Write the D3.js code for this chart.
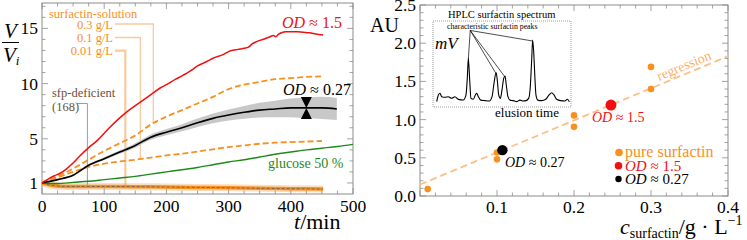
<!DOCTYPE html>
<html><head><meta charset="utf-8">
<script src="https://cdn.jsdelivr.net/npm/d3@7"></script>
<style>body{margin:0;background:#fff}svg{display:block}</style>
</head><body>
<svg id="c" width="747" height="240" style="font-family:'Liberation Serif',serif"></svg>
<script>
// ---------- data: left panel (V/Vi vs t) ----------
const tRed = [0,10,20,30,40,50,60,75,90,100,110,125,140,150,165,175,190,200,215,225,240,250,265,275,290,300,315,325,332,338,345,355,365,372,376,380,385,392,400,410,420,430,440,452];
const vRed = [1.0,1.35,1.65,1.9,2.3,2.8,3.4,4.2,4.9,5.5,6.1,6.9,7.6,8.0,8.6,9.0,9.6,9.9,10.4,10.7,11.2,11.6,12.0,12.3,12.6,12.9,13.1,13.2,13.3,13.6,13.8,14.0,14.2,14.35,14.25,14.45,14.6,14.7,14.7,14.7,14.65,14.6,14.5,14.4];
const tStd = [0,25,50,75,100,125,150,175,200,225,250,275,300,325,350,375,400,425,450];
const v03 = [1.0,1.6,2.3,3.1,3.9,4.6,5.3,6.3,7.0,7.6,8.2,8.8,9.5,9.9,10.15,10.4,10.5,10.6,10.65];
const v01 = [1.0,1.5,2.0,2.45,2.75,2.95,3.1,3.3,3.5,3.65,3.85,4.05,4.25,4.4,4.55,4.65,4.7,4.75,4.8];
const tBlack = [0,25,50,75,100,125,150,175,200,225,250,275,300,325,350,375,400,425,450,474];
const vBlack = [1.0,1.3,1.7,2.6,3.2,3.8,4.4,5.15,5.6,6.0,6.45,6.85,7.15,7.4,7.6,7.7,7.8,7.8,7.8,7.7];
const bandHalf = [0.02,0.05,0.08,0.1,0.13,0.16,0.2,0.24,0.28,0.32,0.38,0.44,0.5,0.58,0.66,0.75,0.85,0.95,1.0,1.0];
const tGreen = [0,25,50,75,100,125,150,175,200,225,250,275,300,325,350,375,400,425,450,475,500];
const vGreen = [1.0,0.95,1.05,1.15,1.3,1.45,1.6,1.8,2.0,2.2,2.4,2.65,2.9,3.1,3.35,3.6,3.8,4.0,4.15,4.3,4.5];
const tLow = [0,10,20,30,50,100,150,200,250,300,350,400,452];
const vLow = [1.0,0.85,0.75,0.7,0.68,0.68,0.66,0.63,0.6,0.56,0.52,0.48,0.45];
const xTicksL = [0,100,200,300,400,500];
const yTicksL = [1,5,10,15];
const calloutT = {c03:179, c01:158, c001:134, sfp:73};
const odMarkT = 425;

// ---------- data: right panel (AU vs c) ----------
const pureC = [0.01,0.1,0.1,0.2,0.2,0.3,0.3];
const pureAU = [0.09,0.57,0.48,1.055,0.905,1.69,1.40];
const od15 = [0.248,1.19];
const od027 = [0.107,0.60];
const regIntercept = 0.15, regSlope = 4.2;
const xTicksR = [0.1,0.2,0.3,0.4];
const yTicksR = [0.0,0.5,1.0,1.5,2.0,2.5];
// HPLC spectrum (arbitrary units 0..100)
const specU = [2.7,3.9,5.1,6.3,8.7,11.1,13.5,15.9,18.4,22,23.9,24.9,25.6,26.6,27.5,29.2,30.7,31.6,32.9,34.6,37.7,40.8,42.8,44.2,45.7,46.6,47.6,48.8,50,51.2,52.2,53.1,54.3,55.8,58.2,60.6,63,65,67.4,69.3,70.5,71.5,72.2,72.9,73.7,74.6,75.9,78.8,81.7,84.1,86,87.7,89.6,92.5,95.6,97.3,98.8];
const specW = [6.2,14,16,12,11.3,12,10.1,12,8.9,8.1,14,35,56.6,31,10,9,14,16,12,8,7.4,7,12,27.5,40,31,14,10,20,33,36,25.6,12,8,7.4,6.2,8,7,7.4,10,23.6,54.7,77.9,66,39,14,8,7.4,9,14,16.6,14,9,7.4,7,9,6.2];
const peakU = [25.6,45.7,52.2,72.2];

const svg = d3.select("#c");
const ORANGE = "#f7901e", RED = "#f01010", GREEN = "#1b8a1b", BROWN = "#6e4f3a", PALE = "#f9c9a0", FRAME = "#8c8c8c";

function frame(g, x, y, xMinor, yMinor, xMaj, yMaj) {
  const [x0,x1] = x.range(), [y0,y1] = y.range();
  g.append("rect").attr("x",x0).attr("y",y1).attr("width",x1-x0).attr("height",y0-y1)
    .attr("fill","none").attr("stroke",FRAME).attr("stroke-width",1);
  const tk = g.append("g").attr("stroke",FRAME).attr("stroke-width",0.8);
  xMinor.forEach(v=>{const L = xMaj.some(m=>Math.abs(m-v)<1e-9)?6:3.5;
    tk.append("line").attr("x1",x(v)).attr("x2",x(v)).attr("y1",y0).attr("y2",y0-L);
    tk.append("line").attr("x1",x(v)).attr("x2",x(v)).attr("y1",y1).attr("y2",y1+L);});
  yMinor.forEach(v=>{const L = yMaj.some(m=>Math.abs(m-v)<1e-9)?6:3.5;
    tk.append("line").attr("y1",y(v)).attr("y2",y(v)).attr("x1",x0).attr("x2",x0+L);
    tk.append("line").attr("y1",y(v)).attr("y2",y(v)).attr("x1",x1).attr("x2",x1-L);});
}

// ================= LEFT PANEL =================
const xL = d3.scaleLinear([0,500],[42,353]);
const yL = d3.scaleLinear([0,17.3],[194,3]);
const gL = svg.append("g");
frame(gL, xL, yL, d3.range(0,501,25), d3.range(1,18,1), xTicksL, yTicksL);
const ln = d3.line().x(d=>xL(d[0])).y(d=>yL(d[1])).curve(d3.curveMonotoneX);
const zip = (a,b)=>a.map((v,i)=>[v,b[i]]);
const interp = (ts,vs,t)=>d3.scaleLinear(ts,vs)(t);

// callout lines
const cl = gL.append("g").attr("fill","none");
function callout(yText, t, vEnd, col, w){
  cl.append("path").attr("d",`M${115},${yText}H${xL(t)}V${yL(vEnd)}`).attr("stroke",col).attr("stroke-width",w);
}
callout(24, calloutT.c03, interp(tStd,v03,calloutT.c03), PALE, 1.3);
callout(37.5, calloutT.c01, interp(tStd,v01,calloutT.c01), PALE, 1.3);
callout(50.7, calloutT.c001, interp(tLow,vLow,calloutT.c001), PALE, 2.2);
cl.append("path").attr("d",`M${77},${103.5}H${xL(calloutT.sfp)}V${yL(interp(tLow,vLow,calloutT.sfp))}`)
  .attr("stroke","#a8968a").attr("stroke-width",1);

// bottom sfp-deficient / 0.01 curves
gL.append("path").attr("d",ln(zip(tLow,vLow))).attr("fill","none").attr("stroke",ORANGE).attr("stroke-opacity",0.3).attr("stroke-width",7);
gL.append("path").attr("d",ln(zip(tLow,vLow))).attr("fill","none").attr("stroke",ORANGE).attr("stroke-width",3.5);
gL.append("path").attr("d",ln(zip(tLow,vLow))).attr("fill","none").attr("stroke","#7a6655").attr("stroke-width",1).attr("stroke-dasharray","3,2");

// green
gL.append("path").attr("d",ln(zip(tGreen,vGreen))).attr("fill","none").attr("stroke",GREEN).attr("stroke-width",1.4);
// black band
const area = d3.area().x(d=>xL(d[0])).y0(d=>yL(d[1]-d[2])).y1(d=>yL(d[1]+d[2])).curve(d3.curveMonotoneX);
gL.append("path").attr("d",area(tBlack.map((t,i)=>[t,vBlack[i],bandHalf[i]]))).attr("fill","#c8c8c8");
// dashed orange
[v03,v01].forEach(v=>gL.append("path").attr("d",ln(zip(tStd,v))).attr("fill","none").attr("stroke",ORANGE).attr("stroke-width",1.8).attr("stroke-dasharray","6,3"));
// black
gL.append("path").attr("d",ln(zip(tBlack,vBlack))).attr("fill","none").attr("stroke","#000").attr("stroke-width",1.6);
// red
gL.append("path").attr("d",ln(zip(tRed,vRed))).attr("fill","none").attr("stroke",RED).attr("stroke-width",1.5);
// hourglass marker
{const mx = xL(odMarkT), my = yL(interp(tBlack,vBlack,odMarkT));
 gL.append("path").attr("d",`M${mx-5.5},${my-11}L${mx+5.5},${my-11}L${mx},${my}Z M${mx-5.5},${my+11}L${mx+5.5},${my+11}L${mx},${my}Z`).attr("fill","#000");}

// tick labels
gL.append("g").selectAll("text").data(xTicksL).join("text").attr("x",d=>xL(d)).attr("y",212).attr("text-anchor","middle").attr("font-size",17.5).text(d=>d);
gL.append("g").selectAll("text").data(yTicksL).join("text").attr("x",38).attr("y",d=>yL(d)+6).attr("text-anchor","end").attr("font-size",17.5).text(d=>d);
// axis labels
gL.append("text").attr("x",10.5).attr("y",38).attr("text-anchor","middle").attr("font-size",21).attr("font-style","italic").text("V");
gL.append("line").attr("x1",2).attr("x2",19).attr("y1",42.5).attr("y2",42.5).attr("stroke","#000").attr("stroke-width",1);
{const t=gL.append("text").attr("x",3).attr("y",62).attr("font-size",21).attr("font-style","italic");
 t.append("tspan").text("V"); t.append("tspan").attr("font-size",13).attr("dy",3).text("i");}
{const t=gL.append("text").attr("x",294).attr("y",229).attr("font-size",22);
 t.append("tspan").attr("font-style","italic").text("t"); t.append("tspan").text("/min");}
// annotations
function odText(g,x,y,size,col,val){const t=g.append("text").attr("x",x).attr("y",y).attr("font-size",size).attr("fill",col);
  t.append("tspan").attr("font-style","italic").text("OD"); t.append("tspan").text(" ≈ "+val); return t;}
odText(gL,282,28,16,RED,"1.5");
odText(gL,283,95,16,"#000","0.27");
gL.append("text").attr("x",268).attr("y",168).attr("font-size",14).attr("fill",GREEN).text("glucose 50 %");
gL.append("text").attr("x",49).attr("y",17.5).attr("font-size",12.5).attr("fill",ORANGE).text("surfactin-solution");
[["0.3 g/L",28.5],["0.1 g/L",42],["0.01 g/L",55]].forEach(d=>gL.append("text").attr("x",113).attr("y",d[1]).attr("text-anchor","end").attr("font-size",12.5).attr("fill",ORANGE).text(d[0]));
gL.append("text").attr("x",52).attr("y",97).attr("font-size",12.5).attr("fill",BROWN).text("sfp-deficient");
gL.append("text").attr("x",52).attr("y",111).attr("font-size",12.5).attr("fill",BROWN).text("(168)");

// ================= RIGHT PANEL =================
const xR = d3.scaleLinear([0,0.4],[420,728]);
const yR = d3.scaleLinear([0,2.5],[196,5]);
const gR = svg.append("g");
frame(gR, xR, yR, d3.range(0,0.4001,0.02).map(v=>+v.toFixed(2)), d3.range(0,2.5001,0.1).map(v=>+v.toFixed(1)), [0,...xTicksR], yTicksR);

// inset
const xI = d3.scaleLinear([0,100],[433,571]);
const yI = d3.scaleLinear([0,100],[107,21]);
gR.append("rect").attr("x",433).attr("y",21).attr("width",138).attr("height",86).attr("fill","#fff").attr("stroke","#777").attr("stroke-width",0.7).attr("stroke-dasharray","1,1");
gR.append("path").attr("d",d3.line().x(d=>xI(d[0])).y(d=>yI(d[1])).curve(d3.curveMonotoneX)(zip(specU,specW))).attr("fill","none").attr("stroke","#000").attr("stroke-width",1.1);
{const ox = xI(27), oy = yI(89);
 peakU.forEach(u=>{const w = interp(specU,specW,u); gR.append("line").attr("x1",ox).attr("y1",oy).attr("x2",xI(u)).attr("y2",yI(w)+1).attr("stroke","#000").attr("stroke-width",0.7);});}
gR.append("text").attr("x",447).attr("y",28.5).attr("font-size",7.8).text("characteristic surfactin peaks");
gR.append("text").attr("x",448).attr("y",17.5).attr("font-size",10.5).text("HPLC surfactin spectrum");
gR.append("text").attr("x",435).attr("y",49).attr("font-size",17).attr("font-style","italic").text("mV");
gR.append("text").attr("x",495).attr("y",117).attr("font-size",13).text("elusion time");

// regression
gR.append("line").attr("x1",xR(0)).attr("y1",yR(regIntercept)).attr("x2",xR(0.4)).attr("y2",yR(regIntercept+regSlope*0.4))
  .attr("stroke","#fbc08a").attr("stroke-width",1.8).attr("stroke-dasharray","7,4");
{const cx = 0.345, px = xR(cx), py = yR(regIntercept+regSlope*cx);
 const ang = Math.atan2(yR(regIntercept+regSlope*0.4)-yR(regIntercept), xR(0.4)-xR(0))*180/Math.PI;
 gR.append("text").attr("transform",`translate(${px},${py-4}) rotate(${ang})`).attr("text-anchor","middle").attr("font-size",14).attr("fill","#fbb070").text("regression");}
// points
gR.append("g").selectAll("circle").data(zip(pureC,pureAU)).join("circle").attr("cx",d=>xR(d[0])).attr("cy",d=>yR(d[1])).attr("r",3.3).attr("fill",ORANGE);
gR.append("circle").attr("cx",xR(od15[0])).attr("cy",yR(od15[1])).attr("r",5.5).attr("fill",RED);
gR.append("circle").attr("cx",xR(od027[0])).attr("cy",yR(od027[1])).attr("r",5.2).attr("fill","#000");
odText(gR,592,122,14,RED,"1.5");
odText(gR,505,167,14,"#000","0.27");
// legend
gR.append("circle").attr("cx",619).attr("cy",152.5).attr("r",3.8).attr("fill",ORANGE);
gR.append("text").attr("x",625).attr("y",157).attr("font-size",16).attr("fill",ORANGE).text("pure surfactin");
gR.append("circle").attr("cx",618.5).attr("cy",165.8).attr("r",3.8).attr("fill",RED);
odText(gR,625,170.5,15,RED,"1.5");
gR.append("circle").attr("cx",618.5).attr("cy",179).attr("r",3.2).attr("fill","#000");
odText(gR,625,184,15,"#000","0.27");
// ticks labels
gR.append("g").selectAll("text").data(xTicksR).join("text").attr("x",d=>xR(d)).attr("y",213).attr("text-anchor","middle").attr("font-size",17.5).text(d=>d.toFixed(1));
gR.append("g").selectAll("text").data(yTicksR).join("text").attr("x",416).attr("y",d=>yR(d)+6).attr("text-anchor","end").attr("font-size",17.5).text(d=>d.toFixed(1));
gR.append("text").attr("x",370).attr("y",32).attr("font-size",20).text("AU");
{const t=gR.append("text").attr("x",620).attr("y",234).attr("font-size",22);
 t.append("tspan").attr("font-style","italic").text("c");
 t.append("tspan").attr("font-size",14).attr("dy",4).text("surfactin");
 t.append("tspan").attr("dy",-4).text("/g · L");
 t.append("tspan").attr("font-size",14).attr("dy",-9).text("−1");}
</script>
</body></html>
